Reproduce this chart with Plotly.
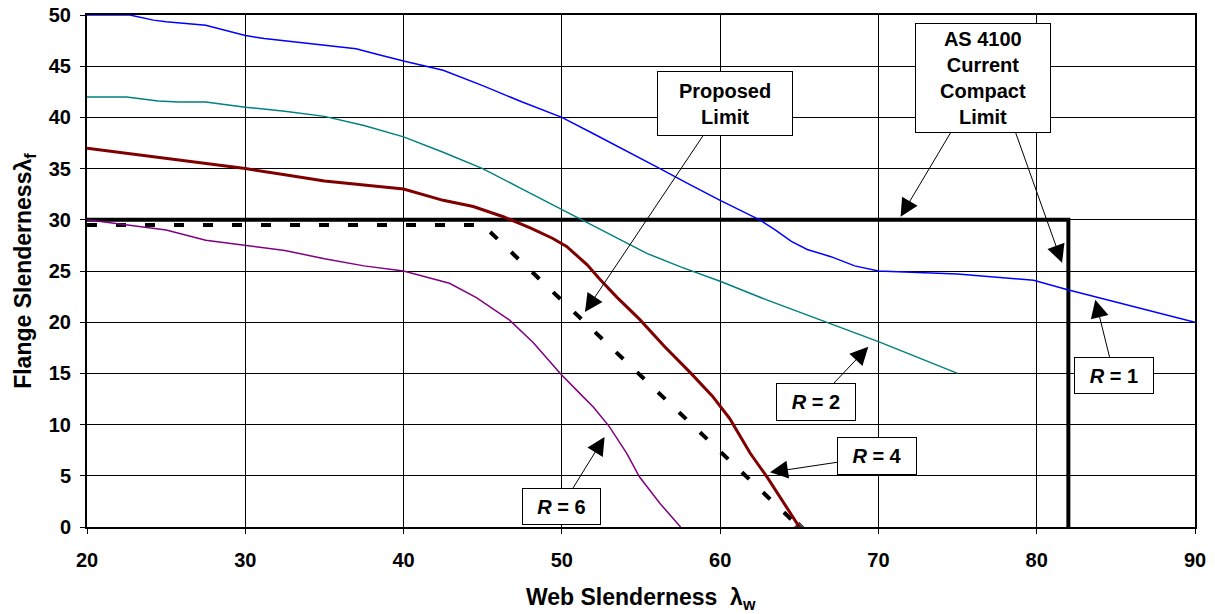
import plotly.graph_objects as go

# ---- data ----
r1_x = [20, 22.7, 24.2, 25.0, 27.5, 28.5, 30, 31.2, 33, 35, 37, 38.5, 40, 42.5, 45, 47.5, 50, 52, 54, 56.2, 58, 60, 62.5, 63.5, 64.5, 65.5, 67, 68.5, 70, 75, 79.8, 81.9, 90]
r1_y = [50, 50, 49.5, 49.35, 49.0, 48.6, 48.0, 47.7, 47.4, 47.0, 46.7, 46.1, 45.5, 44.6, 43.1, 41.5, 40.0, 38.4, 36.8, 35.0, 33.5, 31.9, 30.0, 29.0, 27.9, 27.1, 26.4, 25.5, 25.0, 24.7, 24.1, 23.2, 20.0]

r2_x = [20, 22.5, 24.5, 25.8, 27.5, 30, 32.5, 35, 37.5, 40, 42.5, 45, 47.5, 50, 52.5, 55.4, 57.5, 60, 62.9, 65, 70, 75]
r2_y = [42, 42, 41.6, 41.5, 41.5, 41.0, 40.6, 40.1, 39.2, 38.1, 36.6, 35.0, 33.0, 31.0, 29.0, 26.7, 25.4, 24.0, 22.2, 21.0, 18.1, 15.0]

r4_x = [20, 22.5, 25, 27.5, 30, 32.5, 35, 37.5, 40, 42.5, 44.4, 46.3, 48, 49.4, 50.3, 51.6, 52.4, 53.5, 54.9, 56.5, 58.1, 59.5, 60.6, 61.9, 63, 65]
r4_y = [37, 36.5, 36.0, 35.5, 35.0, 34.4, 33.8, 33.4, 33.0, 31.9, 31.3, 30.3, 29.2, 28.2, 27.4, 25.6, 24.2, 22.4, 20.3, 17.6, 15.1, 12.8, 10.6, 7.2, 4.8, 0]

r6_x = [20, 22.5, 25, 27.5, 30, 32.5, 35, 37.5, 40, 42.9, 44.6, 46.7, 48.2, 49.9, 51.1, 52, 53, 54.1, 54.9, 56.2, 57.5]
r6_y = [30, 29.5, 29.0, 28.0, 27.5, 27.0, 26.2, 25.5, 25.0, 23.8, 22.4, 20.2, 18.0, 15.0, 13.1, 11.7, 9.8, 7.2, 4.9, 2.3, 0]

proposed_x = [20, 45, 65]
proposed_y = [29.5, 29.5, 0]

as4100_x = [20, 82, 82]
as4100_y = [30, 30, 0]

x_ticks = [20, 30, 40, 50, 60, 70, 80, 90]
y_ticks = [0, 5, 10, 15, 20, 25, 30, 35, 40, 45, 50]

# labels: (text, centre x, centre y, box width, box height, arrow head x, arrow head y)
boxes = [
    ("<b>Proposed<br>Limit</b>", 60.3, 41.4, 134, 63, 51.46, 21.0),
    ("<b>AS 4100<br>Current<br>Compact<br>Limit</b>", 76.6, 43.8, 134, 108, 71.4, 30.3),
    ("<b><i>R</i> = 1</b>", 84.9, 14.75, 78, 35, 83.7, 22.2),
    ("<b><i>R</i> = 2</b>", 66.05, 12.2, 78, 36, 69.36, 17.6),
    ("<b><i>R</i> = 4</b>", 69.9, 6.9, 78, 36, 63.15, 5.34),
    ("<b><i>R</i> = 6</b>", 50.0, 2.05, 77, 35, 52.7, 8.8),
]
# second arrow of the AS 4100 label: (tail x, tail y, head x, head y)
extra_arrow = (78.6, 38.8, 81.6, 25.8)

FONT = "Arial, Liberation Sans, sans-serif"
ARROW = dict(showarrow=True, arrowhead=2, arrowsize=3.6, arrowwidth=1,
             arrowcolor="black", standoff=0, startstandoff=0)

fig = go.Figure()
fig.add_trace(go.Scatter(x=as4100_x, y=as4100_y, mode="lines",
                         line=dict(color="black", width=4), showlegend=False))
fig.add_trace(go.Scatter(x=proposed_x, y=proposed_y, mode="lines+markers",
                         line=dict(color="black", width=4, dash="10px,19px"),
                         marker=dict(symbol="diamond", size=[0, 0, 9], color="black"),
                         showlegend=False))
fig.add_trace(go.Scatter(x=r1_x, y=r1_y, mode="lines", line=dict(color="#0000FF", width=1.5), showlegend=False))
fig.add_trace(go.Scatter(x=r2_x, y=r2_y, mode="lines", line=dict(color="#008080", width=1.5), showlegend=False))
fig.add_trace(go.Scatter(x=r4_x, y=r4_y, mode="lines", line=dict(color="#800000", width=3), showlegend=False))
fig.add_trace(go.Scatter(x=r6_x, y=r6_y, mode="lines", line=dict(color="#800080", width=1.5), showlegend=False))

tx, ty, hx, hy = extra_arrow
fig.add_annotation(x=hx, y=hy, ax=tx, ay=ty, xref="x", yref="y", axref="x", ayref="y",
                   text="&nbsp;", font=dict(size=2), **ARROW)

for text, cx, cy, w, h, hx, hy in boxes:
    fig.add_annotation(x=hx, y=hy, ax=cx, ay=cy, xref="x", yref="y", axref="x", ayref="y",
                       text=text, xanchor="center", yanchor="middle", width=w, height=h,
                       bgcolor="white", bordercolor="black", borderwidth=1, borderpad=0,
                       font=dict(family=FONT, size=20, color="black"), **ARROW)

# axis titles
fig.add_annotation(x=0.5, y=-0.1406, xref="paper", yref="paper", showarrow=False,
                   text="<b>Web Slenderness&nbsp; λ<sub>w</sub></b>", xanchor="center", yanchor="middle",
                   font=dict(family=FONT, size=23, color="black"))
fig.add_annotation(x=-0.057, y=0.5, xref="paper", yref="paper", showarrow=False, textangle=-90,
                   text="<b>Flange Slendernessλ<sub>f</sub></b>", xanchor="center", yanchor="middle",
                   font=dict(family=FONT, size=23, color="black"))

axis_common = dict(showgrid=True, gridcolor="black", gridwidth=1, showline=True,
                   linecolor="black", linewidth=2, mirror=True, ticks="outside",
                   ticklen=5, tickcolor="black", tickwidth=1, zeroline=False, automargin=False,
                   tickfont=dict(family=FONT, size=20, color="black", weight="bold"))

fig.update_xaxes(range=[20, 90], tickvals=x_ticks, ticktext=[str(v) for v in x_ticks],
                 ticklabelstandoff=9, **axis_common)
fig.update_yaxes(range=[0, 50], tickvals=y_ticks, ticktext=[str(v) for v in y_ticks],
                 ticklabelstandoff=5, **axis_common)

fig.update_layout(width=1215, height=614, margin=dict(l=87, r=20, t=15, b=87),
                  plot_bgcolor="white", paper_bgcolor="white",
                  font=dict(family=FONT, color="black"))

fig.write_html("out.html")
